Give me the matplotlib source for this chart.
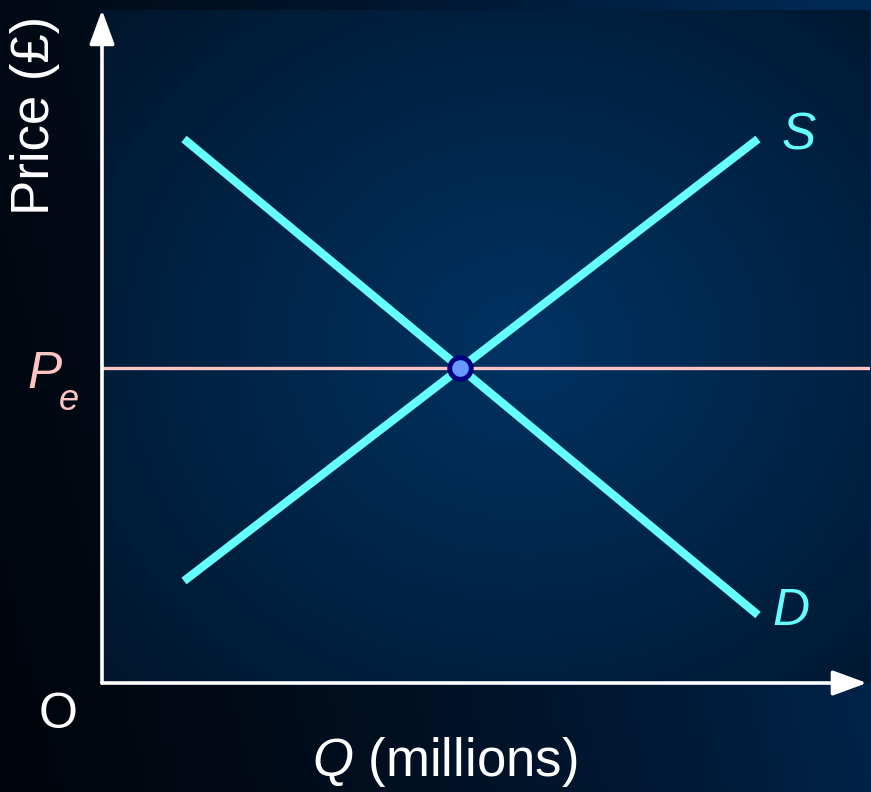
import numpy as np
import matplotlib
matplotlib.use("Agg")
import matplotlib.pyplot as plt

# chart values (Q in millions, P in pounds, arbitrary units)
q_ends = [1.0, 8.0]
demand_p = [8.0, 1.0]
supply_p = [1.5, 8.0]

plt.rcParams['font.family'] = ['Liberation Sans', 'DejaVu Sans']
plt.rcParams['mathtext.fontset'] = 'custom'
plt.rcParams['mathtext.rm'] = 'Liberation Sans'
plt.rcParams['mathtext.it'] = 'Liberation Sans:italic'

W, H = 871, 792
fig = plt.figure(figsize=(W / 100, H / 100), dpi=100)

# outer background gradient (dark on the left, blue on the right)
bg = fig.add_axes([0, 0, 1, 1])
xx, yy = np.meshgrid(np.linspace(0, 1, 300), np.linspace(0, 1, 300))
t = np.clip(xx * 0.85 + (1 - yy) * 0.2, 0, 1) ** 1.3
dark = np.array([0.0, 0.02, 0.045])
blue = np.array([0.0, 0.16, 0.33])
img = dark + (blue - dark) * t[..., None]
bg.imshow(img, extent=[0, 1, 0, 1], aspect='auto', origin='upper')
bg.set_axis_off()

# plot area
x0, x1, y_top, y_bot = 102, 870, 10, 683
ax = fig.add_axes([x0 / W, 1 - y_bot / H, (x1 - x0) / W, (y_bot - y_top) / H])
xmax = (x1 - x0) / 82
ymax = (y_bot - y_top) / 68
ax.set_xlim(0, xmax)
ax.set_ylim(0, ymax)

# inner radial gradient
gx, gy = np.meshgrid(np.linspace(0, 1, 300), np.linspace(0, 1, 300))
r = np.sqrt(((gx - 0.55) / 0.75) ** 2 + ((gy - 0.5) / 0.75) ** 2)
r = np.clip(r, 0, 1)
centre = np.array([0.0, 0.20, 0.39])
edge = np.array([0.0, 0.085, 0.17])
inner = centre + (edge - centre) * r[..., None]
ax.imshow(inner, extent=[0, xmax, 0, ymax], aspect='auto', origin='lower', zorder=0)

for s in ax.spines.values():
    s.set_visible(False)
ax.set_xticks([])
ax.set_yticks([])

# equilibrium from the two lines
d_slope = (demand_p[1] - demand_p[0]) / (q_ends[1] - q_ends[0])
s_slope = (supply_p[1] - supply_p[0]) / (q_ends[1] - q_ends[0])
q_e = q_ends[0] + (supply_p[0] - demand_p[0]) / (d_slope - s_slope)
p_e = demand_p[0] + d_slope * (q_e - q_ends[0])

cyan = '#66ffff'
pink = '#ffc4c4'
ax.axhline(p_e, color=pink, lw=2.4, zorder=2)
ax.plot(q_ends, demand_p, color=cyan, lw=6, solid_capstyle='butt', zorder=3)
ax.plot(q_ends, supply_p, color=cyan, lw=6, solid_capstyle='butt', zorder=3)
ax.plot([q_e], [p_e], 'o', ms=15.5, mfc='#6699ff', mec='#000080', mew=3.5, zorder=4)

# axes with arrows
ap = dict(arrowstyle='-|>,head_length=1.5,head_width=0.55', color='white', lw=2.6,
          shrinkA=0, shrinkB=0, mutation_scale=14)
ax.annotate('', xy=(0, 1), xytext=(0, 0), xycoords='axes fraction', arrowprops=ap,
            annotation_clip=False, zorder=5)
ax.annotate('', xy=(0.996, 0), xytext=(0, 0), xycoords='axes fraction', arrowprops=ap,
            annotation_clip=False, zorder=5)

# labels
ax.text(q_ends[1] + 0.5, supply_p[1] + 0.05, 'S', color=cyan, fontsize=37,
        style='italic', ha='center', va='center')
ax.text(q_ends[1] + 0.4, demand_p[1] + 0.05, 'D', color=cyan, fontsize=37,
        style='italic', ha='center', va='center')
fig.text(35 / W, 1 - 115 / H, 'Price (£)', color='white', fontsize=38, rotation=90,
         ha='center', va='center')
fig.text(45 / W, 1 - 374 / H, 'P', color=pink, fontsize=37, style='italic',
         ha='center', va='center')
fig.text(69 / W, 1 - 401 / H, 'e', color=pink, fontsize=26, style='italic',
         ha='center', va='center')
fig.text(58 / W, 1 - 715 / H, 'O', color='white', fontsize=36, ha='center', va='center')
fig.text(445 / W, 1 - 762 / H, r'$Q$ (millions)', color='white', fontsize=38,
         ha='center', va='center')

fig.savefig('out.png', dpi=100)
